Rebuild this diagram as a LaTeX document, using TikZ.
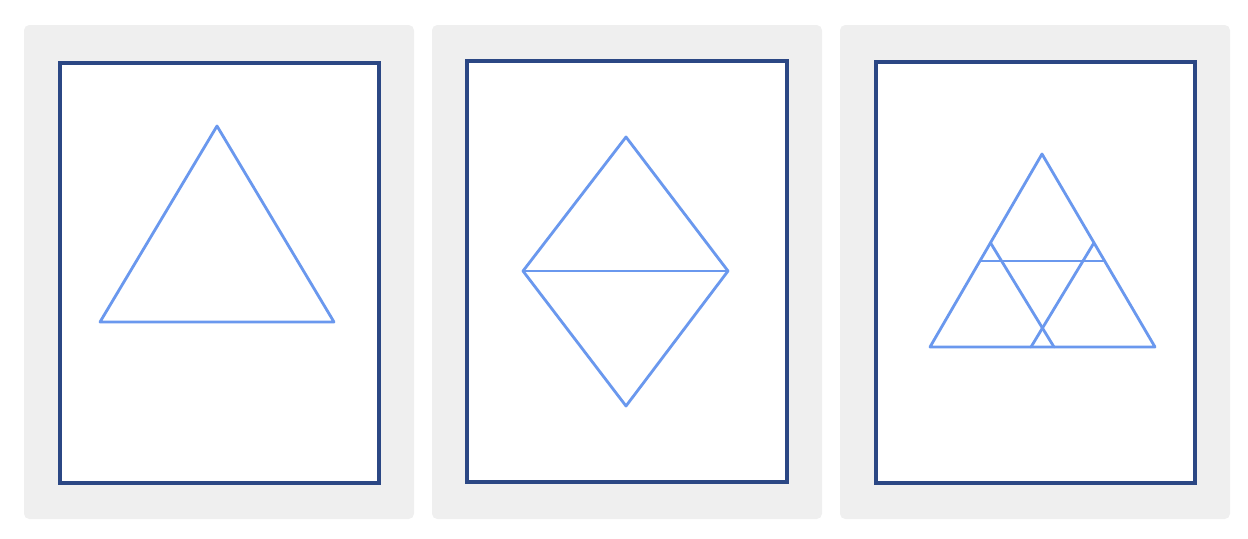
\documentclass[tikz,border=0pt]{standalone}
\usepackage{tikz}
\usetikzlibrary{calc}

\definecolor{panelgray}{HTML}{EFEFEF}
\definecolor{framenavy}{HTML}{2B4784}
\definecolor{shapeblue}{HTML}{6A98EE}

\begin{document}
\begin{tikzpicture}[
    x=0.02cm, y=-0.02cm,
    panel/.style={fill=panelgray, draw=none, rounded corners=3pt},
    sheet/.style={fill=white, draw=framenavy, line width=1.9pt},
    figline/.style={draw=shapeblue, line width=1.6pt, line join=round, line cap=round}
  ]
    \useasboundingbox (0,0) rectangle (1248,538);

    % panels and sheets
    \foreach \px/\sx/\sy/\ex/\ey in {24/60/63/379/483, 432/467/61/787/482, 840/876/62/1195/483} {
      \fill[panel] (\px,25) rectangle ++(390,494);
      \draw[sheet] (\sx,\sy) rectangle (\ex,\ey);
    }

    % first: one triangle
    \coordinate (a1) at (217,126);
    \coordinate (b1) at (100,322);
    \coordinate (c1) at (334,322);
    \draw[figline] (a1) -- (b1) -- (c1) -- cycle;

    % second: two triangles sharing a base
    \coordinate (top) at (626,137);
    \coordinate (lft) at (523,271);
    \coordinate (rgt) at (728,271);
    \coordinate (bot) at (626,406);
    \draw[figline] (top) -- (lft) -- (bot) -- (rgt) -- cycle;
    \draw[figline] (lft) -- (rgt);

    % third: triangle with inner lines
    \coordinate (a3) at (1042,154);
    \coordinate (b3) at (930,347);
    \coordinate (c3) at (1155,347);
    \draw[figline] (a3) -- (b3) -- (c3) -- cycle;
    \coordinate (hl) at ($(b3)!0.446!(a3)$);
    \coordinate (hr) at ($(c3)!0.446!(a3)$);
    \draw[figline] (hl) -- (hr);
    \coordinate (ul) at ($(b3)!0.54!(a3)$);
    \coordinate (ur) at ($(c3)!0.54!(a3)$);
    \coordinate (dl) at (1054,347);
    \coordinate (dr) at (1031,347);
    \draw[figline] (ul) -- (dl);
    \draw[figline] (ur) -- (dr);
  \end{tikzpicture}
\end{document}
